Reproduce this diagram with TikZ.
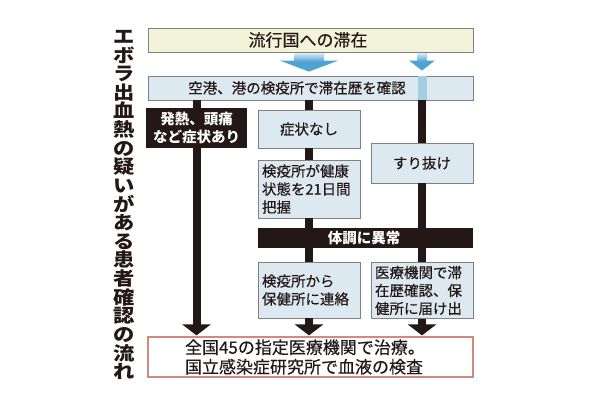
\documentclass[tikz,border=0pt]{standalone}
\usepackage{fontspec}
\setmainfont{Noto Sans CJK JP}[FakeBold=0.3, BoldFeatures={FakeBold=0}]
\usetikzlibrary{arrows.meta}
\definecolor{ink}{HTML}{231815}
\definecolor{boxline}{HTML}{808080}
\definecolor{paleblue}{HTML}{DCE9F0}
\definecolor{paleyellow}{HTML}{F3F3DA}
\definecolor{arrowblue}{HTML}{4FA3D3}
\definecolor{shaftlight}{HTML}{D4E9F5}
\definecolor{bandblue}{HTML}{A3CDE5}
\definecolor{redline}{HTML}{D4897F}
\newcommand\fsz[2]{\fontsize{#1pt}{#2pt}\selectfont}
\tikzset{
  box/.style={draw=boxline, line width=0.8pt, inner sep=0pt, text=ink, font=\fsz{14.5}{18}},
  bluebox/.style={box, fill=paleblue},
  darkbox/.style={fill=ink, text=white, inner sep=0pt, font=\bfseries\fsz{14.5}{18}},
  conn/.style={draw=ink, line width=8pt},
  connarrow/.style={conn, -{Triangle[width=28pt,length=11pt]}},
}
\begin{document}
\begin{tikzpicture}[x=1pt,y=-1pt]
\useasboundingbox[fill=white] (0,0) rectangle (600,408);

% title
\node[text=ink, font=\bfseries\fsz{18.5}{18.63}, align=center, xscale=1.15, inner sep=0pt] (title) at (124,205)
  {エ\\ボ\\ラ\\出\\血\\熱\\の\\疑\\い\\が\\あ\\る\\患\\者\\確\\認\\の\\流\\れ};

% boxes
\node[box, fill=paleyellow, minimum width=325pt, minimum height=24pt] (top) at (310.5,40) {};
\node[text=ink, font=\fsz{17}{20}, inner sep=0pt] (toptext) at (308,40) {流行国への滞在};

\node[bluebox, minimum width=325pt, minimum height=24pt] (scr) at (310.5,88) {};

\node[darkbox, minimum width=101pt, minimum height=40pt, align=center] (sym) at (196.5,128) {発熱、頭痛\\など症状あり};
\node[bluebox, minimum width=102pt, minimum height=38pt] (nosym) at (309,129) {症状なし};
\node[bluebox, minimum width=102pt, minimum height=40pt] (slip) at (422,163) {すり抜け};
\node[bluebox, minimum height=58pt, text width=94pt, inner xsep=4pt, align=left] (watch) at (309,189) {検疫所が健康\\状態を21日間\\把握};
\node[darkbox, minimum width=215pt, minimum height=20pt] (bar) at (365.5,238) {};
\node[text=white, font=\bfseries\fsz{14.5}{18}, inner sep=0pt] (bartext) at (364,238) {体調に異常};
\node[bluebox, minimum height=56pt, text width=94pt, inner xsep=4pt, align=left] (notify) at (309,290) {検疫所から\\保健所に連絡};
\node[bluebox, minimum height=56pt, text width=94pt, inner xsep=4pt, align=left] (hosp) at (422,290.5) {医療機関で滞\\在歴確認、保\\健所に届け出};
\node[draw=redline, line width=1.2pt, fill=white, text=ink, font=\fsz{17}{19.5}, minimum height=40pt, text width=251pt, inner xsep=37pt, inner ysep=0pt, align=left] (final) at (310.5,357) {全国45の指定医療機関で治療。\\国立感染症研究所で血液の検査};

% blue arrows from top to screening box
\draw[arrowblue, line width=29pt, -{Triangle[width=58pt,length=11pt]}] ([yshift=-1pt]top.south -| nosym) -- ([yshift=4pt]scr.north -| nosym);
\shade[top color=shaftlight, bottom color=arrowblue] ([xshift=-14.5pt,yshift=-1pt]top.south -| nosym) rectangle ([xshift=14.5pt,yshift=-9pt]top.south -| nosym);
\draw[arrowblue, line width=9pt, -{Triangle[width=25pt,length=10pt]}] ([yshift=-1pt]top.south -| slip) -- ([yshift=5pt]scr.north -| slip);
\shade[top color=shaftlight, bottom color=arrowblue] ([xshift=-4.5pt,yshift=-1pt]top.south -| slip) rectangle ([xshift=4.5pt,yshift=-9pt]top.south -| slip);
\fill[bandblue] ([xshift=-4.5pt,yshift=-0.4pt]scr.north -| slip) rectangle ([xshift=4.5pt,yshift=0.4pt]scr.south -| slip);
\node[text=ink, font=\fsz{14.5}{18}, inner sep=0pt] (scrtext) at (297,88) {空港、港の検疫所で滞在歴を確認};

% black connectors
\draw[conn] (scr.south -| sym) -- (sym.north);
\draw[conn] (scr.south -| nosym) -- (nosym.north);
\draw[conn] (scr.south -| slip) -- (slip.north);
\draw[conn] (nosym.south) -- (watch.north);
\draw[conn] (watch.south) -- (bar.north -| watch);
\draw[conn] (slip.south) -- (bar.north -| slip);
\draw[conn] (bar.south -| notify) -- (notify.north);
\draw[conn] (bar.south -| hosp) -- (hosp.north);
\draw[connarrow] (sym.south) -- ([yshift=1pt]final.north -| sym);
\draw[connarrow] (notify.south) -- ([yshift=1pt]final.north -| notify);
\draw[connarrow] (hosp.south) -- ([yshift=1pt]final.north -| hosp);
\end{tikzpicture}
\end{document}
